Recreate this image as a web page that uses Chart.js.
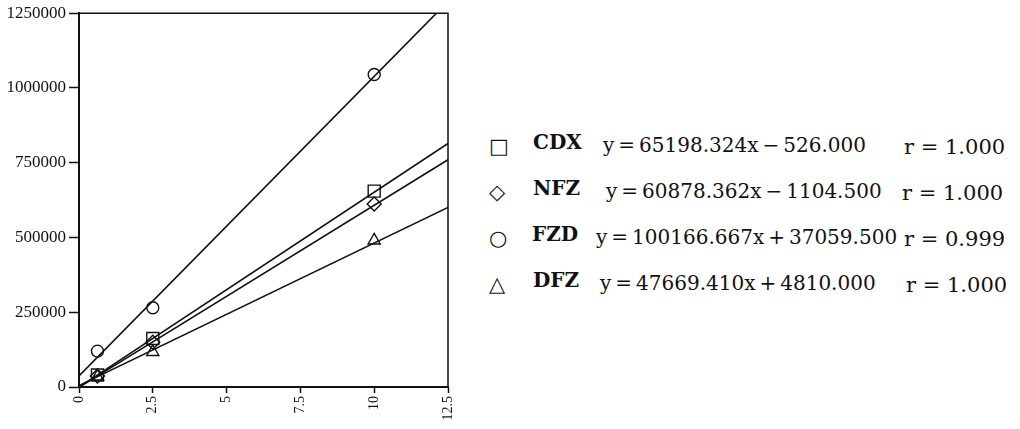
<!DOCTYPE html>
<html>
<head>
<meta charset="utf-8">
<script src="https://cdn.jsdelivr.net/npm/chart.js@4.4.1/dist/chart.umd.min.js"></script>
<style>
  html, body { margin: 0; padding: 0; background: #fff; }
  #wrap { position: relative; width: 1020px; height: 429px; overflow: hidden; }
  #chartBox { position: absolute; left: 0; top: 0; width: 470px; height: 429px; }
  .lg { position: absolute; font-family: "DejaVu Serif", serif; font-size: 20px; color: #111; white-space: nowrap; line-height: 24px; }
  .rv { position: absolute; font-family: "DejaVu Serif", serif; font-size: 21px; color: #111; white-space: nowrap; line-height: 24px; }
  .nm { position: absolute; font-family: "DejaVu Serif", serif; font-size: 20px; font-weight: bold; color: #111; white-space: nowrap; line-height: 24px; }
  .sym { position: absolute; font-family: "DejaVu Sans", sans-serif; font-size: 21px; color: #111; line-height: 24px; }
</style>
</head>
<body>
<div id="wrap">
  <div id="chartBox"><canvas id="c"></canvas></div>
  <div id="legend"></div>
</div>
<script>
// ---- data ----
const concentrations = [0.625, 2.5, 10];
const cdxValues = [40000, 162000, 655000];
const nfzValues = [37000, 150000, 612000];
const fzdValues = [120000, 265000, 1045000];
const dfzValues = [35000, 117000, 490000];

// regression line end points (x = 0 and x = 12.5)
const fitX = [0, 12.5];
const cdxFit = [-526, 814453];
const nfzFit = [-1105, 759875];
const fzdFit = [37060, 1289143];
const dfzFit = [4810, 600688];

const xTickValues = [0, 2.5, 5, 7.5, 10, 12.5];
const xTickLabels = ["0", "2.5", "5", "7.5", "10", "12.5"];
const yTickValues = [0, 250000, 500000, 750000, 1000000, 1250000];
const yTickLabels = ["0", "250000", "500000", "750000", "1000000", "1250000"];

const seriesNames = ["CDX", "NFZ", "FZD", "DFZ"];
const seriesSymbols = ["\u25A1", "\u25C7", "\u25CB", "\u25B3"];
const equations = ["y\u2009=\u200965198.324x\u2009\u2212\u2009526.000", "y\u2009=\u200960878.362x\u2009\u2212\u20091104.500", "y\u2009=\u2009100166.667x\u2009+\u200937059.500", "y\u2009=\u200947669.410x\u2009+\u20094810.000"];
const rValues = ["r = 1.000", "r = 1.000", "r = 0.999", "r = 1.000"];

// ---- build datasets ----
function pts(xs, ys) { return xs.map((x, i) => ({ x: x, y: ys[i] })); }

const markerStyles = ["rect", "rectRot", "circle", "triangle"];
const markerRadii = [8.5, 7, 6, 7];
const pointSets = [cdxValues, nfzValues, fzdValues, dfzValues];
const fitSets = [cdxFit, nfzFit, fzdFit, dfzFit];

const datasets = [];
fitSets.forEach((f, i) => {
  datasets.push({
    type: 'line',
    label: seriesNames[i] + ' fit',
    data: pts(fitX, f),
    borderColor: '#111',
    borderWidth: 1.6,
    pointRadius: 0,
    fill: false,
    tension: 0,
    order: 2
  });
});
pointSets.forEach((v, i) => {
  datasets.push({
    type: 'scatter',
    label: seriesNames[i],
    data: pts(concentrations, v),
    pointStyle: markerStyles[i],
    pointRadius: markerRadii[i],
    pointBackgroundColor: 'rgba(255,255,255,0)',
    pointBorderColor: '#111',
    pointBorderWidth: 1.4,
    showLine: false,
    order: 1
  });
});

const framePlugin = {
  id: 'frame',
  afterDatasetsDraw(chart) {
    const a = chart.chartArea, ctx = chart.ctx;
    ctx.save();
    ctx.strokeStyle = '#111';
    ctx.lineWidth = 1.5;
    ctx.beginPath();
    ctx.moveTo(a.left, a.top);
    ctx.lineTo(a.right, a.top);
    ctx.lineTo(a.right, a.bottom);
    ctx.stroke();
    ctx.restore();
  }
};

const chart = new Chart(document.getElementById('c'), {
  data: { datasets: datasets },
  options: {
    responsive: true,
    maintainAspectRatio: false,
    animation: false,
    layout: { padding: { left: 0, top: 13, right: 22, bottom: 0 } },
    plugins: { legend: { display: false }, tooltip: { enabled: false } },
    scales: {
      x: {
        type: 'linear',
        min: 0, max: 12.5,
        afterBuildTicks(s) { s.ticks = xTickValues.map(v => ({ value: v })); },
        afterFit(s) { s.height = 42; },
        ticks: {
          minRotation: 90, maxRotation: 90,
          padding: 3,
          color: '#111',
          font: { family: 'Liberation Serif', size: 14 },
          callback(v) { const i = xTickValues.indexOf(v); return i >= 0 ? xTickLabels[i] : ''; }
        },
        grid: { display: true, drawOnChartArea: false, drawTicks: true, tickLength: 6, color: '#111', tickWidth: 1.5 },
        border: { display: true, color: '#111', width: 2 }
      },
      y: {
        type: 'linear',
        min: 0, max: 1250000,
        afterBuildTicks(s) { s.ticks = yTickValues.map(v => ({ value: v })); },
        afterFit(s) { s.width = 79; },
        ticks: {
          padding: 3,
          color: '#111',
          font: { family: 'Liberation Serif', size: 17 },
          callback(v) { const i = yTickValues.indexOf(v); return i >= 0 ? yTickLabels[i] : ''; }
        },
        grid: { display: true, drawOnChartArea: false, drawTicks: true, tickLength: 10, color: '#111', tickWidth: 1.5 },
        border: { display: true, color: '#111', width: 2 }
      }
    }
  },
  plugins: [framePlugin]
});

// ---- legend (real text) ----
const rowCenters = [145, 191, 237, 283];
const symX = 489, nameX = [533, 533, 532, 533], eqX = [603, 606, 596, 600], rX = [904, 902, 904, 906];
const lg = document.getElementById('legend');
seriesNames.forEach((n, i) => {
  const top = rowCenters[i] - 12;
  const s = document.createElement('div'); s.className = 'sym'; s.style.left = symX + 'px'; s.style.top = (top + 1) + 'px'; s.textContent = seriesSymbols[i]; lg.appendChild(s);
  const a = document.createElement('div'); a.className = 'nm'; a.style.left = nameX[i] + 'px'; a.style.top = (top - 3) + 'px'; a.textContent = n; lg.appendChild(a);
  const b = document.createElement('div'); b.className = 'lg'; b.style.left = eqX[i] + 'px'; b.style.top = top + 'px'; b.textContent = equations[i]; lg.appendChild(b);
  const c = document.createElement('div'); c.className = 'rv'; c.style.left = rX[i] + 'px'; c.style.top = (top + 2) + 'px'; c.textContent = rValues[i]; lg.appendChild(c);
});
</script>
</body>
</html>
